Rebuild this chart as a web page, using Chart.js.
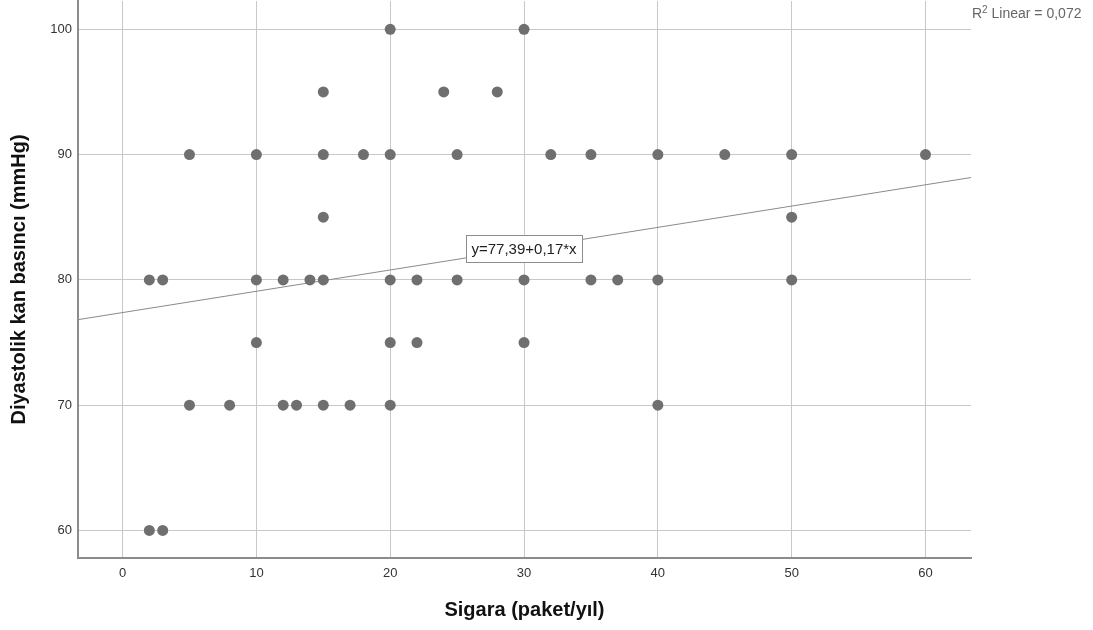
<!DOCTYPE html>
<html>
<head>
<meta charset="utf-8">
<script src="https://cdn.jsdelivr.net/npm/chart.js@4"></script>
<style>
  html, body { margin: 0; padding: 0; background: #fff; }
  canvas { display: block; }
</style>
</head>
<body>
<canvas id="chart" width="1093" height="630"></canvas>
<script>
// Sigara (paket/yil) vs diyastolik kan basinci
const sigara = [
  20, 30,
  15, 24, 28,
  5, 10, 15, 18, 20, 25, 32, 35, 40, 45, 50, 60,
  15, 50,
  2, 3, 10, 12, 14, 15, 20, 22, 25, 30, 35, 37, 40, 50,
  10, 20, 22, 30,
  5, 8, 12, 13, 15, 17, 20, 40,
  2, 3
];
const diyastolik = [
  100, 100,
  95, 95, 95,
  90, 90, 90, 90, 90, 90, 90, 90, 90, 90, 90, 90,
  85, 85,
  80, 80, 80, 80, 80, 80, 80, 80, 80, 80, 80, 80, 80, 80,
  75, 75, 75, 75,
  70, 70, 70, 70, 70, 70, 70, 70,
  60, 60
];
const xTicks = [0, 10, 20, 30, 40, 50, 60];
const yTicks = [60, 70, 80, 90, 100];

// fit line y = 77,39 + 0,17*x
const intercept = 77.39;
const slope = 0.17;
const rSquared = '0,072';
const equationText = 'y=77,39+0,17*x';

const xMin = -3.33, xMax = 63.4;
const yMin = 57.8, yMax = 102.26;

const FONT = '"Liberation Sans", Arial, sans-serif';

const points = sigara.map((x, i) => ({ x: x, y: diyastolik[i] }));
const fitLine = [
  { x: xMin, y: intercept + slope * xMin },
  { x: xMax, y: intercept + slope * xMax }
];

const annotations = {
  id: 'annotations',
  afterDraw(chart) {
    const ctx = chart.ctx;
    const xs = chart.scales.x, ys = chart.scales.y;
    ctx.save();

    // equation box on the line
    ctx.font = '15px ' + FONT;
    const cx = xs.getPixelForValue(30);
    const cy = ys.getPixelForValue(82.5);
    const w = 116, h = 27;
    ctx.fillStyle = '#fff';
    ctx.fillRect(cx - w / 2, cy - h / 2, w, h);
    ctx.strokeStyle = '#8c8c8c';
    ctx.lineWidth = 1;
    ctx.strokeRect(Math.round(cx - w / 2) + 0.5, Math.round(cy - h / 2) + 0.5, w, h);
    ctx.fillStyle = '#222';
    ctx.textAlign = 'center';
    ctx.textBaseline = 'middle';
    ctx.fillText(equationText, cx, cy + 1);

    // R2 label, top right
    ctx.textAlign = 'left';
    ctx.textBaseline = 'alphabetic';
    ctx.fillStyle = '#666';
    let tx = 972;
    ctx.font = '14px ' + FONT;
    ctx.fillText('R', tx, 18);
    tx += ctx.measureText('R').width;
    ctx.font = '10px ' + FONT;
    ctx.fillText('2', tx, 13);
    tx += ctx.measureText('2').width;
    ctx.font = '14px ' + FONT;
    ctx.fillText(' Linear = ' + rSquared, tx, 18);

    ctx.restore();
  }
};

new Chart(document.getElementById('chart').getContext('2d'), {
  type: 'scatter',
  data: {
    datasets: [
      {
        label: 'Gözlem',
        data: points,
        backgroundColor: '#6f6f6f',
        borderWidth: 0,
        pointRadius: 5.5,
        order: 1
      },
      {
        label: 'Linear',
        type: 'line',
        data: fitLine,
        borderColor: '#8a8a8a',
        borderWidth: 1,
        pointRadius: 0,
        fill: false,
        order: 2
      }
    ]
  },
  options: {
    animation: false,
    responsive: false,
    devicePixelRatio: 1,
    layout: { autoPadding: false, padding: { left: 0, top: 1, right: 122, bottom: 0 } },
    plugins: {
      legend: { display: false },
      tooltip: { enabled: false }
    },
    scales: {
      x: {
        type: 'linear',
        min: xMin,
        max: xMax,
        afterBuildTicks: (scale) => { scale.ticks = xTicks.map(v => ({ value: v })); },
        afterFit: (scale) => {
          scale.height = 72;
          scale.paddingLeft = 0;
          scale.paddingRight = 0;
        },
        grid: { color: '#c8c8c8', lineWidth: 1, drawTicks: false },
        border: { display: true, color: '#8c8c8c', width: 2 },
        ticks: { color: '#333', padding: 8, font: { family: FONT, size: 13 } },
        title: {
          display: true,
          text: 'Sigara (paket/yıl)',
          color: '#111',
          font: { family: FONT, size: 20, weight: 'bold' },
          padding: { top: 0, bottom: 8 }
        }
      },
      y: {
        type: 'linear',
        min: yMin,
        max: yMax,
        afterBuildTicks: (scale) => { scale.ticks = yTicks.map(v => ({ value: v })); },
        afterFit: (scale) => {
          scale.width = 78;
          scale.paddingTop = 0;
          scale.paddingBottom = 0;
        },
        grid: { color: '#c8c8c8', lineWidth: 1, drawTicks: false },
        border: { display: true, color: '#8c8c8c', width: 2 },
        ticks: { color: '#333', padding: 6, font: { family: FONT, size: 13 } },
        title: {
          display: true,
          text: 'Diyastolik kan basıncı (mmHg)',
          color: '#111',
          font: { family: FONT, size: 20, weight: 'bold' },
          padding: { top: 7, bottom: 0 }
        }
      }
    }
  },
  plugins: [annotations]
});
</script>
</body>
</html>
